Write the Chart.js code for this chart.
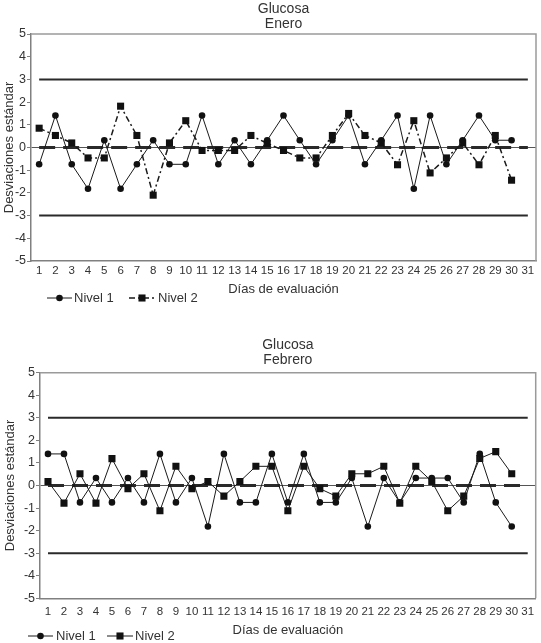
<!DOCTYPE html>
<html>
<head>
<meta charset="utf-8">
<script src="https://cdn.jsdelivr.net/npm/chart.js@4/dist/chart.umd.min.js"></script>
<style>
  html, body { margin: 0; padding: 0; background: #fff; }
  #enero { position: absolute; left: 0; top: 0; width: 541px; height: 320px; }
  #febrero { position: absolute; left: 0; top: 320px; width: 541px; height: 323px; }
</style>
</head>
<body>
<div id="enero"><canvas id="graficoEnero"></canvas></div>
<div id="febrero"><canvas id="graficoFebrero"></canvas></div>
<script>
const dias = ["1", "2", "3", "4", "5", "6", "7", "8", "9", "10", "11", "12", "13", "14", "15", "16",
  "17", "18", "19", "20", "21", "22", "23", "24", "25", "26", "27", "28", "29", "30", "31"];

const eneroNivel1 = [-0.74, 1.41, -0.74, -1.82, 0.32, -1.82, -0.74, 0.32, -0.74, -0.74, 1.41, -0.74, 0.32, -0.74, 0.32,
  1.41, 0.32, -0.74, 0.32, 1.41, -0.74, 0.32, 1.41, -1.82, 1.41, -0.74, 0.32, 1.41, 0.32, 0.32];
const eneroNivel2 = [0.85, 0.53, 0.2, -0.46, -0.46, 1.82, 0.53, -2.1, 0.2, 1.18, -0.13, -0.13, -0.13, 0.53, 0.18,
  -0.13, -0.46, -0.46, 0.53, 1.5, 0.53, 0.2, -0.76, 1.18, -1.12, -0.46, 0.2, -0.76, 0.53, -1.44];

const febreroNivel1 = [1.4, 1.4, -0.75, 0.33, -0.75, 0.33, -0.75, 1.4, -0.75, 0.33, -1.82, 1.4, -0.75, -0.75, 1.4,
  -0.75, 1.4, -0.75, -0.75, 0.33, -1.82, 0.33, -0.75, 0.33, 0.33, 0.33, -0.75, 1.4, -0.75, -1.82];
const febreroNivel2 = [0.18, -0.78, 0.52, -0.78, 1.19, -0.14, 0.52, -1.12, 0.85, -0.14, 0.18, -0.47, 0.18, 0.85, 0.85,
  -1.12, 0.85, -0.14, -0.47, 0.52, 0.52, 0.85, -0.78, 0.85, 0.18, -1.12, -0.47, 1.2, 1.5, 0.52];

const limiteSuperior = 3;
const media = 0;
const limiteInferior = -3;
const ticksY = [-5, 5];

const TEXTO = '#333';
const FUENTE = "'Liberation Sans', Arial, sans-serif";

// Marco gris arriba/derecha + leyenda dibujada a mano
const marco = {
  id: 'marco',
  beforeDatasetsDraw(chart) {
    let a = chart.chartArea, ctx = chart.ctx;
    ctx.save();
    ctx.strokeStyle = '#9a9a9a';
    ctx.lineWidth = 1.5;
    ctx.beginPath();
    ctx.moveTo(a.left, a.top);
    ctx.lineTo(a.right, a.top);
    ctx.lineTo(a.right, a.bottom);
    ctx.stroke();
    ctx.restore();
  },
  afterDraw(chart, args, opts) {
    let ctx = chart.ctx;
    ctx.save();
    opts.items.forEach(function (it, i) {
      let ds = chart.data.datasets[i];
      ctx.strokeStyle = ds.borderColor;
      ctx.lineWidth = ds.borderWidth;
      ctx.setLineDash(ds.borderDash || []);
      ctx.beginPath();
      ctx.moveTo(it.x0, opts.y);
      ctx.lineTo(it.x1, opts.y);
      ctx.stroke();
      ctx.setLineDash([]);
      ctx.fillStyle = ds.pointBackgroundColor;
      let m = (it.x0 + it.x1) / 2;
      if (ds.pointStyle === 'rect') {
        let s = ds.pointRadius * Math.SQRT1_2;
        ctx.fillRect(m - s, opts.y - s, 2 * s, 2 * s);
      } else {
        ctx.beginPath();
        ctx.arc(m, opts.y, ds.pointRadius, 0, Math.PI * 2);
        ctx.fill();
      }
      ctx.fillStyle = TEXTO;
      ctx.font = '13px ' + FUENTE;
      ctx.textBaseline = 'middle';
      ctx.fillText(ds.label, it.tx, opts.y);
    });
    ctx.restore();
  }
};

function crearGrafico(id, mes, nivel1, nivel2, estilo2, g) {
  let lineaControl = function (valor, ancho, trazo) {
    return {
      data: [{ x: "1", y: valor }, { x: "31", y: valor }],
      borderColor: '#2a2a2a', borderWidth: ancho, borderDash: trazo,
      pointRadius: 0, fill: false, order: 5
    };
  };

  return new Chart(document.getElementById(id), {
    type: 'line',
    data: {
      labels: dias,
      datasets: [
        { label: 'Nivel 1', data: nivel1, borderColor: '#1a1a1a', borderWidth: 1, pointStyle: 'circle',
          pointRadius: 3.3, pointBackgroundColor: '#111', pointBorderWidth: 0, order: 1 },
        { label: 'Nivel 2', data: nivel2, borderColor: '#1a1a1a', borderWidth: estilo2.ancho, borderDash: estilo2.trazo,
          pointStyle: 'rect', pointRadius: 5, pointBackgroundColor: '#111', pointBorderWidth: 0, order: 2 },
        lineaControl(limiteSuperior, 2, []),
        lineaControl(media, 3, [16, 8]),
        lineaControl(limiteInferior, 2, [])
      ]
    },
    options: {
      responsive: true, maintainAspectRatio: false, animation: false,
      layout: { padding: { left: 0, right: 1, top: 0, bottom: 0 } },
      plugins: {
        legend: { display: false },
        tooltip: { enabled: false },
        title: {
          display: true, text: ['Glucosa', mes], fullSize: false, color: TEXTO,
          font: { family: FUENTE, size: 14, weight: 'normal', lineHeight: 15 / 14 },
          padding: { top: g.tituloArriba, bottom: g.tituloAbajo }
        },
        marco: { y: g.leyendaY, items: g.leyenda }
      },
      scales: {
        x: {
          offset: true,
          grid: { display: false, drawTicks: false },
          border: { color: '#808080', width: 1.5 },
          ticks: { color: TEXTO, padding: g.tickPadX, autoSkip: false, maxRotation: 0,
            font: { family: "'Liberation Sans Narrow', " + FUENTE, size: 11.5 } },
          title: { display: true, text: 'Días de evaluación', color: TEXTO,
            font: { family: FUENTE, size: 13, lineHeight: 14 / 13 }, padding: { top: 0, bottom: g.tituloXAbajo } },
          afterFit: function (s) { s.height = g.altoX; }
        },
        y: {
          min: ticksY[0], max: ticksY[1],
          grid: {
            color: function (c) { return c.tick && c.tick.value === 0 ? '#555' : 'rgba(0,0,0,0)'; },
            tickColor: '#808080', tickLength: 4, lineWidth: 1
          },
          border: { color: '#808080', width: 1.5 },
          ticks: { stepSize: 1, color: TEXTO, padding: 1, font: { family: FUENTE, size: 12.5 } },
          title: { display: true, text: 'Desviaciones estándar', color: TEXTO,
            font: { family: FUENTE, size: 13, lineHeight: 14 / 13 }, padding: { top: g.tituloYPad, bottom: 0 } },
          afterFit: function (s) { s.width = g.anchoY; }
        }
      }
    },
    plugins: [marco]
  });
}

crearGrafico('graficoEnero', 'Enero', eneroNivel1, eneroNivel2, { ancho: 1.5, trazo: [6, 3, 2, 3] }, {
  tituloArriba: 1.5, tituloAbajo: 2.5, altoX: 59, tickPadX: 3, tituloXAbajo: 24, anchoY: 31, tituloYPad: 2,
  leyendaY: 298, leyenda: [{ x0: 47, x1: 72, tx: 74 }, { x0: 129, x1: 155, tx: 158 }]
});

crearGrafico('graficoFebrero', 'Febrero', febreroNivel1, febreroNivel2, { ancho: 1, trazo: [] }, {
  tituloArriba: 17.5, tituloAbajo: 5.2, altoX: 44.7, tickPadX: 6.8, tituloXAbajo: 5.3, anchoY: 40, tituloYPad: 3,
  leyendaY: 316, leyenda: [{ x0: 28, x1: 53, tx: 56 }, { x0: 107, x1: 133, tx: 135 }]
});
</script>
</body>
</html>
